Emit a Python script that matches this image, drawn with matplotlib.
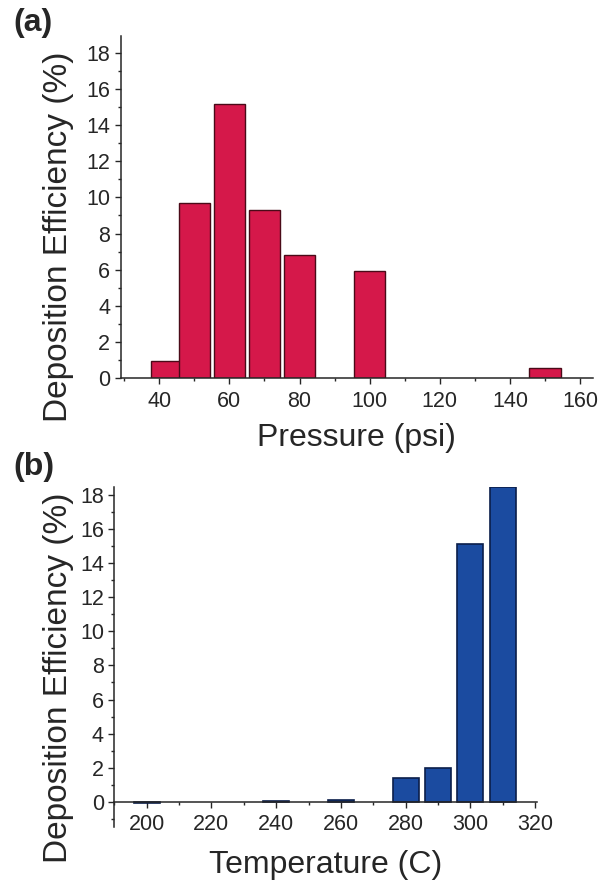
import matplotlib
matplotlib.use('Agg')
import matplotlib.pyplot as plt
from matplotlib.ticker import MultipleLocator

# (a) deposition efficiency vs gas pressure
pressure = [42, 50, 60, 70, 80, 100, 150]
pressure_de = [0.97, 9.7, 15.15, 9.3, 6.8, 5.95, 0.59]

# (b) deposition efficiency vs gas temperature
temperature = [200, 240, 260, 280, 290, 300, 310]
temperature_de = [-0.08, 0.05, 0.1, 1.38, 1.99, 15.12, 18.45]

plt.rcParams['font.family'] = ['Liberation Sans', 'DejaVu Sans']
INK = '#262626'
YLABEL = 'Deposition Efficiency (%)'


def style(ax, xlim, ylim):
    ax.set_xlim(*xlim)
    ax.set_ylim(*ylim)
    for s in ['top', 'right']:
        ax.spines[s].set_visible(False)
    ax.spines['bottom'].set_position(('data', 0))
    for s in ['left', 'bottom']:
        ax.spines[s].set_color(INK)
        ax.spines[s].set_linewidth(1.1)
    ax.xaxis.set_major_locator(MultipleLocator(20))
    ax.xaxis.set_minor_locator(MultipleLocator(10))
    ax.yaxis.set_major_locator(MultipleLocator(2))
    ax.yaxis.set_minor_locator(MultipleLocator(1))
    ax.tick_params(which='major', length=4, width=1, direction='out',
                   labelsize=15.5, colors=INK)
    ax.tick_params(which='minor', length=2.2, width=1, direction='out', colors=INK)
    ax.tick_params(axis='x', which='major', pad=5)
    ax.tick_params(axis='y', which='major', pad=3.5)


fig = plt.figure(figsize=(6.02, 8.82), dpi=100)

ax1 = fig.add_axes([0.2005, 0.5711, 0.7846, 0.3876])
ax1.bar(pressure, pressure_de, width=9, color='#d5184a', edgecolor='#4a0a18',
        linewidth=1, zorder=2)
style(ax1, (29, 163.7), (0, 18.9))
ax1.set_xlabel('Pressure (psi)', fontsize=23, color=INK, labelpad=8)
ax1.set_ylabel(YLABEL, fontsize=24, color=INK)
ax1.yaxis.set_label_coords(-0.0995, 0.415)

ax2 = fig.add_axes([0.1899, 0.062, 0.7017, 0.3864])
ax2.bar(temperature, temperature_de, width=8, color='#1b4ba0', edgecolor='#0b1e4a',
        linewidth=1.2, zorder=2)
style(ax2, (190, 320.5), (-1.5, 18.5))
ax2.set_xlabel('Temperature (C)', fontsize=23, color=INK, labelpad=10.5)
ax2.set_ylabel(YLABEL, fontsize=24, color=INK)
ax2.yaxis.set_label_coords(-0.096, 0.44)

fig.text(13 / 602, 1 - 8 / 882, '(a)', fontsize=23, fontweight='bold',
         color=INK, ha='left', va='top')
fig.text(13 / 602, 1 - 452 / 882, '(b)', fontsize=23, fontweight='bold',
         color=INK, ha='left', va='top')

fig.savefig('out.png', dpi=100)
